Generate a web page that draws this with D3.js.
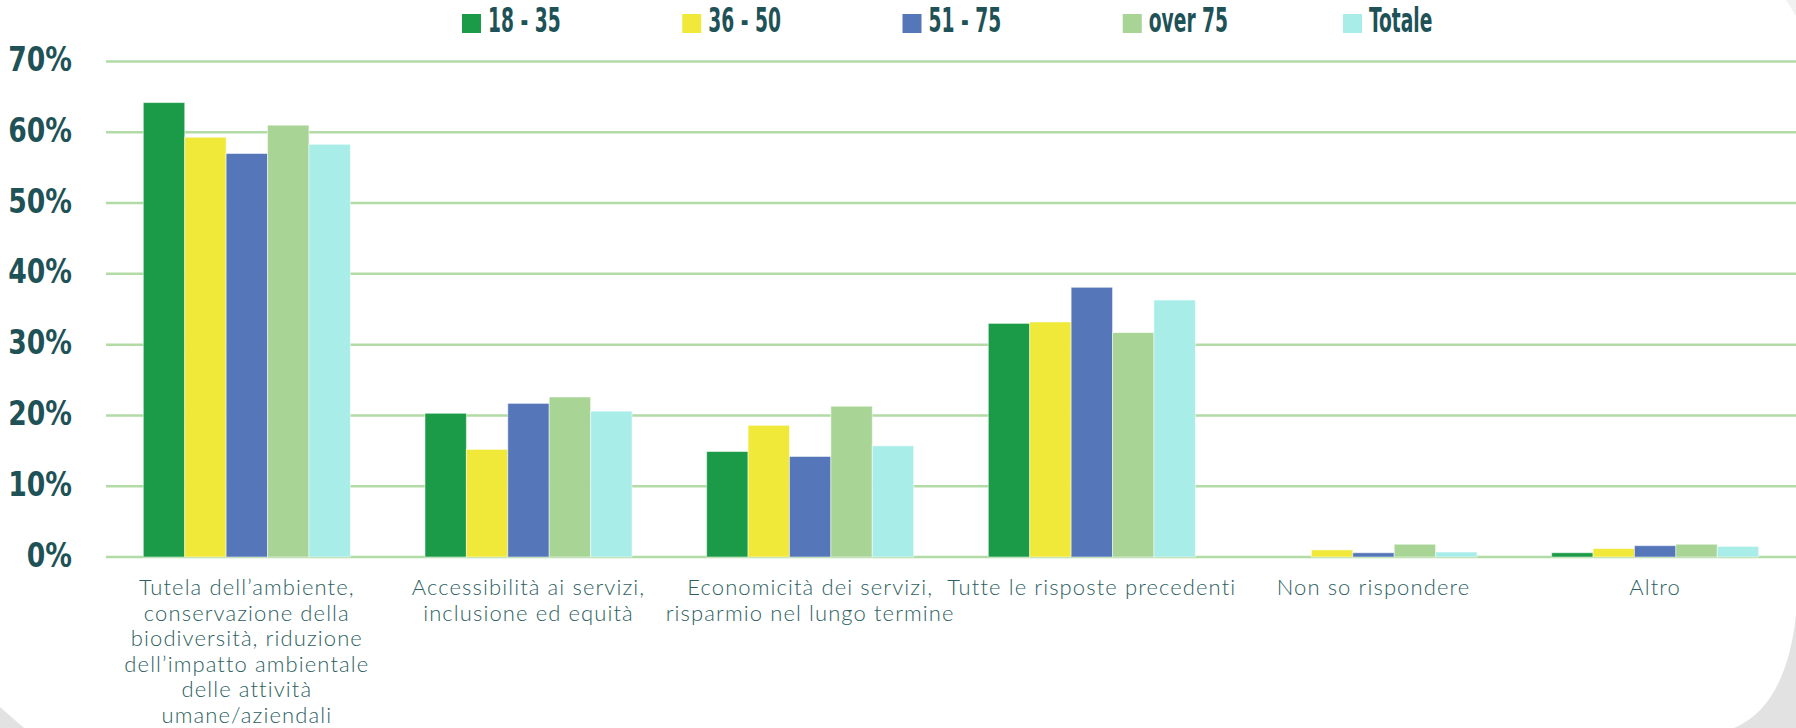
<!DOCTYPE html>
<html>
<head>
<meta charset="utf-8">
<script src="https://cdn.jsdelivr.net/npm/d3@7"></script>
<style>
  body { margin: 0; background: #fff; }
  svg { display: block; }
  .ylab { font-family: "DejaVu Sans Condensed", "DejaVu Sans", sans-serif; font-weight: bold; font-stretch: condensed; font-size: 34px; fill: #1e5257; }
  .legtext { font-family: "DejaVu Sans Condensed", "DejaVu Sans", sans-serif; font-weight: bold; font-stretch: condensed; font-size: 34px; fill: #1e5257; }
  .catlab { font-family: Lato, "Open Sans", sans-serif; font-weight: 300; font-size: 22px; letter-spacing: 1.1px; fill: #2e5f62; }
</style>
</head>
<body>
<svg id="chart"></svg>
<script>
// svg box size
var width = 1796,
    height = 728;

// chart data (percent)
var categories = ["tutela", "accessibilita", "economicita", "tutte", "nonso", "altro"];
var categoryLines = [
    ["Tutela dell\u2019ambiente,", "conservazione della", "biodiversit\u00e0, riduzione", "dell\u2019impatto ambientale", "delle attivit\u00e0", "umane/aziendali"],
    ["Accessibilit\u00e0 ai servizi,", "inclusione ed equit\u00e0"],
    ["Economicit\u00e0 dei servizi,", "risparmio nel lungo termine"],
    ["Tutte le risposte precedenti"],
    ["Non so rispondere"],
    ["Altro"]
];
var seriesNames = ["18 - 35", "36 - 50", "51 - 75", "over 75", "Totale"];
var s18_35  = [64.2, 20.3, 14.9, 33.0, 0.0, 0.6];
var s36_50  = [59.3, 15.2, 18.6, 33.2, 1.0, 1.2];
var s51_75  = [57.0, 21.7, 14.2, 38.1, 0.6, 1.6];
var sOver75 = [61.0, 22.6, 21.3, 31.7, 1.8, 1.8];
var sTotale = [58.3, 20.6, 15.7, 36.3, 0.7, 1.5];
var yTicks = [0, 10, 20, 30, 40, 50, 60, 70];

var seriesValues = [s18_35, s36_50, s51_75, sOver75, sTotale];
var colors = ["#1b9b48", "#f0e93a", "#5576b8", "#a8d595", "#a8ede8"];

// plot area
var margins = {top: 61.5, bottom: 171, left: 106, right: 0};

var svg = d3.select("#chart")
    .attr("width", width)
    .attr("height", height);

// background panel with grey corners
svg.append("rect")
    .attr("width", width).attr("height", height)
    .attr("fill", "#fff");
svg.append("path")
    .attr("d", "M1796,615 Q1786,706 1734,728 L1796,728 Z")
    .attr("fill", "#e2e2e2");
svg.append("path")
    .attr("d", "M0,707 L24,728 L0,728 Z")
    .attr("fill", "#e2e2e2");
svg.append("path")
    .attr("d", "M1786,0 L1796,0 L1796,16 Z")
    .attr("fill", "#f1f1f1");

// scales
var x0 = d3.scaleBand()
    .domain(categories)
    .range([margins.left, width - margins.right])
    .paddingInner(0.265)
    .paddingOuter(0.1325);

var x1 = d3.scaleBand()
    .domain(d3.range(seriesNames.length))
    .range([0, x0.bandwidth()])
    .padding(0);

var y = d3.scaleLinear()
    .domain([0, 70])
    .range([height - margins.bottom, margins.top]);

// gridlines
svg.append("g")
    .selectAll("line")
    .data(yTicks)
    .enter()
    .append("line")
    .attr("x1", margins.left)
    .attr("x2", width)
    .attr("y1", function(d) { return y(d); })
    .attr("y2", function(d) { return y(d); })
    .attr("stroke", "#b3dba5")
    .attr("stroke-width", 2.5);

// y labels
var yAxis = d3.axisLeft(y)
    .tickValues(yTicks)
    .tickFormat(function(d) { return d + "%"; })
    .tickSize(0);

var gy = svg.append("g")
    .attr("transform", "translate(72,0)")
    .call(yAxis);
gy.select(".domain").remove();
gy.selectAll(".tick text")
    .attr("class", "ylab")
    .attr("x", 0)
    .attr("dy", null)
    .attr("y", 0)
    .attr("transform", "translate(0,9) scale(0.87,1)")
    .attr("text-anchor", "end");

// bars
var groups = svg.append("g")
    .selectAll("g")
    .data(categories)
    .enter()
    .append("g")
    .attr("transform", function(d) { return "translate(" + x0(d) + ",0)"; });

groups.selectAll("rect")
    .data(function(d, i) {
        return seriesValues.map(function(vals, s) { return {s: s, v: vals[i]}; });
    })
    .enter()
    .append("rect")
    .attr("x", function(d) { return x1(d.s); })
    .attr("width", x1.bandwidth())
    .attr("y", function(d) { return y(d.v); })
    .attr("height", function(d) { return y(0) - y(d.v); })
    .attr("fill", function(d) { return colors[d.s]; })
    .attr("stroke", "#ffffff")
    .attr("stroke-opacity", 0.5)
    .attr("stroke-width", 1);

// category labels
var lineH = 25.5;
groups.append("text")
    .attr("class", "catlab")
    .attr("text-anchor", "middle")
    .selectAll("tspan")
    .data(function(d, i) { return categoryLines[i]; })
    .enter()
    .append("tspan")
    .attr("x", x0.bandwidth() / 2)
    .attr("y", function(d, j) { return y(0) + 38 + j * lineH; })
    .text(function(d) { return d; });

// legend
var legX = d3.scalePoint()
    .domain(seriesNames)
    .range([462, 1343]);

var legend = svg.append("g")
    .selectAll("g")
    .data(seriesNames)
    .enter()
    .append("g")
    .attr("transform", function(d) { return "translate(" + legX(d) + ",14)"; });

legend.append("rect")
    .attr("width", 19)
    .attr("height", 19)
    .attr("fill", function(d, i) { return colors[i]; });

legend.append("text")
    .attr("class", "legtext")
    .attr("transform", "translate(26,18) scale(0.61,1)")
    .text(function(d) { return d; });
</script>
</body>
</html>
